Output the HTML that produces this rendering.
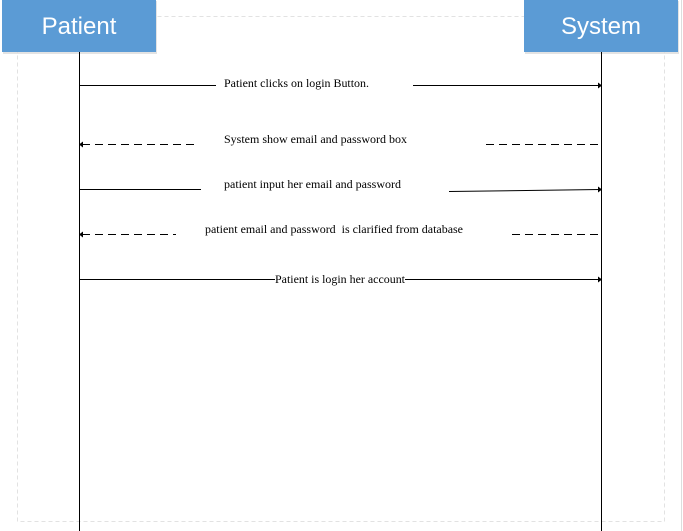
<!DOCTYPE html>
<html><head><meta charset="utf-8"><style>
html,body{margin:0;padding:0;background:#fff;}
svg{display:block;}
text{font-family:"Liberation Serif",serif;font-size:12px;fill:#000;}
</style></head><body>
<svg width="683" height="531" viewBox="0 0 683 531" xmlns="http://www.w3.org/2000/svg">
<rect x="17.5" y="16.5" width="647" height="505" fill="none" stroke="#e2e2e2" stroke-dasharray="4,3"/>
<line x1="681.5" y1="0" x2="681.5" y2="531" stroke="#ddd"/>
<rect x="3" y="1" width="154" height="53" fill="#c8c8c8" opacity="0.5"/>
<rect x="2" y="0" width="154" height="52" fill="#5b9bd5"/>
<rect x="525" y="1" width="154" height="53" fill="#c8c8c8" opacity="0.5"/>
<rect x="524" y="0" width="154" height="52" fill="#5b9bd5"/>
<text x="79" y="34" text-anchor="middle" style="font-family:'Liberation Sans',sans-serif;font-size:24px;fill:#fff">Patient</text>
<text x="601" y="34" text-anchor="middle" style="font-family:'Liberation Sans',sans-serif;font-size:24px;fill:#fff">System</text>
<line x1="79.5" y1="52" x2="79.5" y2="531" stroke="#000"/>
<line x1="601.5" y1="52" x2="601.5" y2="531" stroke="#000"/>
<g stroke="#000" fill="none">
<line x1="79" y1="85.5" x2="216" y2="85.5"/>
<line x1="413" y1="85.5" x2="600" y2="85.5"/>
<line x1="82" y1="144.5" x2="198" y2="144.5" stroke-dasharray="8,5"/>
<line x1="486" y1="144.5" x2="601" y2="144.5" stroke-dasharray="8,5"/>
<line x1="79" y1="189.5" x2="201" y2="189.5"/>
<line x1="449" y1="191.5" x2="600" y2="189.5"/>
<line x1="82" y1="234.5" x2="176" y2="234.5" stroke-dasharray="8,5"/>
<line x1="512" y1="234.5" x2="601" y2="234.5" stroke-dasharray="8,5"/>
<line x1="79" y1="279.5" x2="275" y2="279.5"/>
<line x1="405" y1="279.5" x2="600" y2="279.5"/>
</g>
<g fill="#000">
<path d="M602 85.5 L598 82.5 L598 88.5Z"/>
<path d="M602 189.5 L598 186.5 L598 192.5Z"/>
<path d="M602 279.5 L598 276.5 L598 282.5Z"/>
<path d="M79 144.5 L83 141.5 L83 147.5Z"/>
<path d="M79 234.5 L83 231.5 L83 237.5Z"/>
</g>
<text x="224" y="87" textLength="145" lengthAdjust="spacingAndGlyphs">Patient clicks on login Button.</text>
<text x="224" y="143" textLength="183" lengthAdjust="spacingAndGlyphs">System show email and password box</text>
<text x="224" y="188" textLength="177" lengthAdjust="spacingAndGlyphs">patient input her email and password</text>
<text x="205" y="233" textLength="258" lengthAdjust="spacingAndGlyphs" xml:space="preserve">patient email and password  is clarified from database</text>
<text x="275" y="283" textLength="130" lengthAdjust="spacingAndGlyphs">Patient is login her account</text>
</svg>
</body></html>
